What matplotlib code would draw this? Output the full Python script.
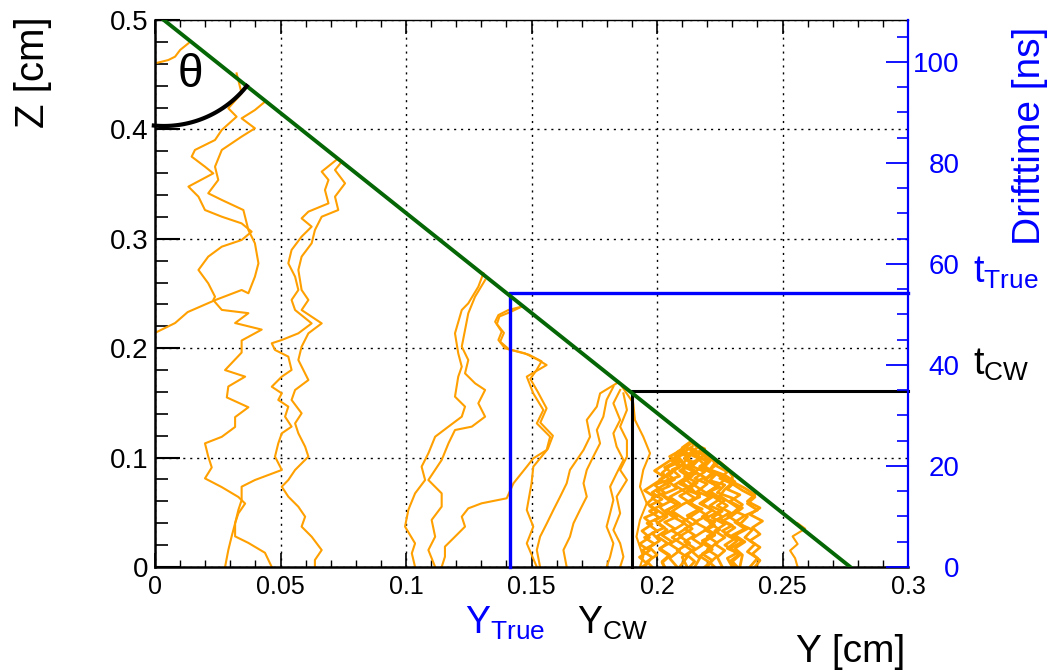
import numpy as np
import matplotlib.pyplot as plt

plt.rcParams['font.family'] = ['Liberation Sans', 'DejaVu Sans']
plt.rcParams['mathtext.fontset'] = 'custom'
plt.rcParams['mathtext.rm'] = 'Liberation Sans'

# particle track through the drift gap (Y, Z in cm)
track_y = [0.0035, 0.277]
track_z = [0.5, 0.0]

# true crossing point and the one from the charge-weighted method
y_true, z_true = 0.1414, 0.25
y_cw, z_cw = 0.19, 0.161

# drift time scale: z = 0.5 cm corresponds to t_max
z_max = 0.5
t_max = 108.3

y_ticks = [0, 0.05, 0.1, 0.15, 0.2, 0.25, 0.3]
y_tick_labels = ['0', '0.05', '0.1', '0.15', '0.2', '0.25', '0.3']
z_ticks = [0, 0.1, 0.2, 0.3, 0.4, 0.5]
z_tick_labels = ['0', '0.1', '0.2', '0.3', '0.4', '0.5']
t_ticks = [0, 20, 40, 60, 80, 100]
t_tick_labels = ['0', '20', '40', '60', '80', '100']

# electron drift paths, each a list of (y, z) points
drift_upper = [
    [(0.0133, 0.4787), (0.0100, 0.4726), (0.0080, 0.4665), (0.0053, 0.4634),
     (0.0027, 0.4619), (0.0, 0.4604), (-0.003, 0.459)],
    [(0.0325, 0.4512), (0.0345, 0.4330), (0.0292, 0.4193), (0.0325, 0.4116),
     (0.0266, 0.3995), (0.0239, 0.3903), (0.0159, 0.3812), (0.0146, 0.3751),
     (0.0199, 0.3659), (0.0232, 0.3598), (0.0133, 0.3477), (0.0173, 0.3385),
     (0.0199, 0.3263), (0.0266, 0.3202), (0.0345, 0.3141), (0.0385, 0.3065),
     (0.0345, 0.2989), (0.0266, 0.2928), (0.0212, 0.2837), (0.0173, 0.2715),
     (0.0212, 0.2593), (0.0239, 0.2471), (0.0232, 0.244), (0.0266, 0.235),
     (0.0372, 0.232), (0.0319, 0.223), (0.0425, 0.217), (0.0345, 0.207),
     (0.0345, 0.196), (0.0279, 0.180), (0.0359, 0.174), (0.0292, 0.165),
     (0.0286, 0.155), (0.0372, 0.146), (0.0319, 0.137), (0.0319, 0.128),
     (0.0266, 0.119), (0.0199, 0.113), (0.0212, 0.101), (0.0226, 0.091),
     (0.0199, 0.081), (0.0266, 0.073), (0.0332, 0.064), (0.0359, 0.058),
     (0.0332, 0.049), (0.0319, 0.040), (0.0319, 0.028), (0.0372, 0.022),
     (0.0438, 0.013), (0.0465, 0.0)],
    [(0.0438, 0.4253), (0.0398, 0.4177), (0.0345, 0.4101), (0.0398, 0.4010),
     (0.0345, 0.3934), (0.0266, 0.3812), (0.0239, 0.3659), (0.0252, 0.3538),
     (0.0212, 0.3416), (0.0266, 0.3355), (0.0352, 0.3263), (0.0372, 0.3080),
     (0.0398, 0.2959), (0.0412, 0.2776), (0.0398, 0.2654), (0.0372, 0.2502),
     (0.0345, 0.2532), (0.0240, 0.2440), (0.0130, 0.2330), (0.0080, 0.2230),
     (0.0, 0.2140), (-0.003, 0.211)],
    [(0.0730, 0.3735), (0.0664, 0.3614), (0.0691, 0.3538), (0.0677, 0.3446),
     (0.0691, 0.3324), (0.0611, 0.3248), (0.0584, 0.3187), (0.0624, 0.3111),
     (0.0584, 0.3020), (0.0544, 0.2898), (0.0531, 0.2776), (0.0558, 0.2654),
     (0.0571, 0.2532), (0.0544, 0.2441), (0.0558, 0.2349), (0.0624, 0.2227),
     (0.0571, 0.2136), (0.0505, 0.2075), (0.0465, 0.2045), (0.0478, 0.1984),
     (0.0531, 0.1923), (0.0544, 0.1801), (0.0505, 0.1740), (0.0465, 0.1648),
     (0.0505, 0.1587), (0.0491, 0.1527), (0.0531, 0.1466), (0.0518, 0.1374),
     (0.0544, 0.1283), (0.0505, 0.1222), (0.0491, 0.1130), (0.0478, 0.1009),
     (0.0505, 0.0887), (0.0398, 0.0795), (0.0345, 0.0734), (0.0345, 0.0612),
     (0.0332, 0.0521), (0.0319, 0.0399), (0.0305, 0.0277), (0.0292, 0.0155),
     (0.0279, 0.0)],
    [(0.0744, 0.3705), (0.0717, 0.3629), (0.0757, 0.3507), (0.0717, 0.3385),
     (0.0730, 0.3263), (0.0664, 0.3202), (0.0637, 0.3080), (0.0624, 0.2959),
     (0.0584, 0.2837), (0.0571, 0.2715), (0.0584, 0.2532), (0.0611, 0.2441),
     (0.0584, 0.2349), (0.0664, 0.2227), (0.0611, 0.2136), (0.0584, 0.2014),
     (0.0571, 0.1892), (0.0611, 0.1709), (0.0558, 0.1618), (0.0544, 0.1527),
     (0.0584, 0.1405), (0.0558, 0.1313), (0.0571, 0.1222), (0.0598, 0.1100),
     (0.0611, 0.1009), (0.0558, 0.0887), (0.0531, 0.0795), (0.0505, 0.0734),
     (0.0531, 0.0643), (0.0571, 0.0551), (0.0598, 0.0460), (0.0584, 0.0369),
     (0.0624, 0.0277), (0.0664, 0.0155), (0.0637, 0.0064), (0.0637, 0.0)],
]

drift_middle = [
    [(0.1308, 0.2684), (0.1288, 0.2562), (0.1248, 0.2410), (0.1222, 0.2349),
     (0.1195, 0.2136), (0.1208, 0.1953), (0.1222, 0.1831), (0.1208, 0.1740),
     (0.1195, 0.1557), (0.1235, 0.1466), (0.1222, 0.1374), (0.1169, 0.1283),
     (0.1116, 0.1191), (0.1089, 0.1039), (0.1062, 0.0917), (0.1076, 0.0795),
     (0.1036, 0.0673), (0.1009, 0.0521), (0.0996, 0.0369), (0.1036, 0.0216),
     (0.1023, 0.0125), (0.1036, 0.0)],
    [(0.1315, 0.2623), (0.1275, 0.2471), (0.1248, 0.2319), (0.1235, 0.2166),
     (0.1222, 0.2014), (0.1248, 0.1892), (0.1235, 0.1770), (0.1275, 0.1679),
     (0.1315, 0.1618), (0.1288, 0.1496), (0.1315, 0.1374), (0.1262, 0.1283),
     (0.1195, 0.1252), (0.1169, 0.1130), (0.1142, 0.0978), (0.1089, 0.0795),
     (0.1142, 0.0673), (0.1142, 0.0552), (0.1102, 0.0430), (0.1116, 0.0277),
     (0.1089, 0.0155), (0.1116, 0.0)],
    [(0.1461, 0.2380), (0.1408, 0.2349), (0.1368, 0.2303), (0.1355, 0.2242),
     (0.1381, 0.2151), (0.1368, 0.2075), (0.1394, 0.1999), (0.1474, 0.1953),
     (0.1527, 0.1892), (0.1560, 0.1846), (0.1481, 0.1740), (0.1507, 0.1587),
     (0.1547, 0.1435), (0.1521, 0.1313), (0.1574, 0.1191), (0.1560, 0.1069),
     (0.1507, 0.0993), (0.1481, 0.0917), (0.1428, 0.0765), (0.1401, 0.0628),
     (0.1301, 0.0582), (0.1248, 0.0536), (0.1222, 0.0460), (0.1235, 0.0369),
     (0.1195, 0.0277), (0.1155, 0.0186), (0.1155, 0.0094), (0.1142, 0.0)],
    [(0.1461, 0.2380), (0.1415, 0.2330), (0.1372, 0.2290), (0.1362, 0.2220),
     (0.1390, 0.2140), (0.1375, 0.2060), (0.1410, 0.1990), (0.1490, 0.1940),
     (0.1540, 0.1880), (0.1520, 0.1800), (0.1495, 0.1720), (0.1525, 0.1600),
     (0.1560, 0.1450), (0.1535, 0.1320), (0.1585, 0.1200), (0.1565, 0.1080),
     (0.1507, 0.0917), (0.1500, 0.0765), (0.1481, 0.0521), (0.1507, 0.0369),
     (0.1481, 0.0216), (0.1521, 0.0)],
]

drift_cw = [
    [(0.1839, 0.1679), (0.1773, 0.1587), (0.1760, 0.1466), (0.1720, 0.1344),
     (0.1733, 0.1191), (0.1707, 0.1069), (0.1680, 0.0978), (0.1653, 0.0887),
     (0.1640, 0.0765), (0.1614, 0.0643), (0.1587, 0.0521), (0.1561, 0.0399),
     (0.1534, 0.0277), (0.1521, 0.0155), (0.1534, 0.0)],
    [(0.1826, 0.1648), (0.1799, 0.1527), (0.1786, 0.1374), (0.1760, 0.1252),
     (0.1773, 0.1130), (0.1746, 0.1009), (0.1720, 0.0887), (0.1707, 0.0765),
     (0.1720, 0.0643), (0.1693, 0.0521), (0.1667, 0.0399), (0.1653, 0.0277),
     (0.1627, 0.0155), (0.1640, 0.0)],
    [(0.1853, 0.1618), (0.1826, 0.1496), (0.1853, 0.1344), (0.1826, 0.1222),
     (0.1839, 0.1100), (0.1866, 0.0978), (0.1839, 0.0856), (0.1813, 0.0734),
     (0.1826, 0.0612), (0.1813, 0.0491), (0.1799, 0.0369), (0.1826, 0.0216),
     (0.1813, 0.0094), (0.1799, 0.0)],
    [(0.1866, 0.1587), (0.1880, 0.1435), (0.1853, 0.1283), (0.1880, 0.1158),
     (0.1880, 0.1009), (0.1853, 0.0887), (0.1880, 0.0795), (0.1839, 0.0643),
     (0.1853, 0.0491), (0.1826, 0.0338), (0.1853, 0.0216), (0.1866, 0.0094),
     (0.1853, 0.0)],
    [(0.1860, 0.1650), (0.1905, 0.1500), (0.1912, 0.1344), (0.1945, 0.1191),
     (0.1972, 0.1039), (0.1945, 0.0887), (0.1932, 0.0734), (0.1959, 0.0582),
     (0.1932, 0.0430), (0.1918, 0.0277), (0.1945, 0.0094), (0.1932, 0.0)],
    [(0.2560, 0.0400), (0.2590, 0.0350), (0.2540, 0.0280), (0.2560, 0.0210),
     (0.2530, 0.0150), (0.2550, 0.0080), (0.2560, 0.0)],
]

drift_cluster = [
    [(0.213, 0.114), (0.210, 0.109), (0.212, 0.104), (0.207, 0.100), (0.211, 0.094),
     (0.206, 0.089), (0.209, 0.083), (0.204, 0.079), (0.208, 0.072), (0.202, 0.066),
     (0.206, 0.061), (0.201, 0.055), (0.204, 0.048), (0.199, 0.043), (0.203, 0.036),
     (0.198, 0.031), (0.201, 0.024), (0.197, 0.018), (0.200, 0.011), (0.196, 0.005),
     (0.198, 0.0)],
    [(0.214, 0.113), (0.218, 0.107), (0.215, 0.103), (0.220, 0.096), (0.217, 0.092),
     (0.223, 0.085), (0.219, 0.080), (0.225, 0.073), (0.221, 0.069), (0.227, 0.061),
     (0.224, 0.056), (0.229, 0.050), (0.225, 0.044), (0.230, 0.038), (0.226, 0.033),
     (0.231, 0.026), (0.227, 0.020), (0.232, 0.013), (0.228, 0.008), (0.230, 0.0)],
    [(0.212, 0.111), (0.208, 0.105), (0.213, 0.101), (0.210, 0.094), (0.215, 0.088),
     (0.211, 0.083), (0.216, 0.077), (0.212, 0.070), (0.217, 0.066), (0.213, 0.058),
     (0.218, 0.053), (0.214, 0.047), (0.210, 0.041), (0.214, 0.035), (0.209, 0.028),
     (0.213, 0.022), (0.208, 0.015), (0.212, 0.009), (0.209, 0.0)],
    [(0.215, 0.112), (0.219, 0.108), (0.216, 0.101), (0.221, 0.097), (0.218, 0.090),
     (0.224, 0.086), (0.221, 0.079), (0.227, 0.075), (0.224, 0.068), (0.230, 0.063),
     (0.234, 0.057), (0.231, 0.051), (0.236, 0.046), (0.233, 0.039), (0.238, 0.034),
     (0.235, 0.027), (0.239, 0.021), (0.236, 0.014), (0.240, 0.008), (0.237, 0.0)],
    [(0.213, 0.112), (0.209, 0.106), (0.205, 0.101), (0.208, 0.097), (0.203, 0.091),
     (0.206, 0.086), (0.201, 0.080), (0.205, 0.074), (0.200, 0.069), (0.204, 0.062),
     (0.208, 0.057), (0.203, 0.051), (0.207, 0.045), (0.211, 0.040), (0.206, 0.033),
     (0.210, 0.028), (0.205, 0.021), (0.209, 0.015), (0.205, 0.008), (0.208, 0.0)],
    [(0.216, 0.109), (0.213, 0.104), (0.217, 0.099), (0.214, 0.092), (0.219, 0.087),
     (0.215, 0.081), (0.220, 0.076), (0.216, 0.069), (0.221, 0.064), (0.217, 0.058),
     (0.222, 0.052), (0.218, 0.046), (0.223, 0.041), (0.219, 0.034), (0.223, 0.029),
     (0.218, 0.022), (0.222, 0.016), (0.217, 0.010), (0.221, 0.004), (0.219, 0.0)],
    [(0.210, 0.107), (0.207, 0.103), (0.210, 0.097), (0.205, 0.092), (0.202, 0.086),
     (0.205, 0.080), (0.199, 0.075), (0.203, 0.068), (0.198, 0.063), (0.202, 0.057),
     (0.197, 0.051), (0.201, 0.045), (0.196, 0.040), (0.200, 0.033), (0.195, 0.027),
     (0.199, 0.021), (0.194, 0.015), (0.198, 0.009), (0.195, 0.0)],
    [(0.217, 0.106), (0.221, 0.102), (0.223, 0.095), (0.221, 0.089), (0.227, 0.084),
     (0.231, 0.078), (0.228, 0.071), (0.233, 0.066), (0.229, 0.060), (0.234, 0.054),
     (0.230, 0.047), (0.226, 0.042), (0.231, 0.036), (0.227, 0.030), (0.232, 0.024),
     (0.228, 0.017), (0.233, 0.012), (0.229, 0.005), (0.231, 0.0)],
    [(0.211, 0.110), (0.215, 0.105), (0.211, 0.099), (0.214, 0.094), (0.209, 0.088),
     (0.213, 0.082), (0.209, 0.076), (0.214, 0.071), (0.217, 0.064), (0.212, 0.059),
     (0.216, 0.053), (0.220, 0.047), (0.215, 0.041), (0.219, 0.036), (0.223, 0.030),
     (0.218, 0.024), (0.222, 0.018), (0.218, 0.012), (0.222, 0.006), (0.220, 0.0)],
    [(0.219, 0.103), (0.216, 0.098), (0.212, 0.093), (0.216, 0.086), (0.211, 0.081),
     (0.214, 0.075), (0.209, 0.069), (0.205, 0.064), (0.209, 0.058), (0.204, 0.052),
     (0.208, 0.046), (0.203, 0.041), (0.207, 0.035), (0.202, 0.029), (0.206, 0.023),
     (0.201, 0.017), (0.205, 0.011), (0.202, 0.005), (0.203, 0.0)],
    [(0.214, 0.108), (0.218, 0.103), (0.221, 0.097), (0.217, 0.091), (0.222, 0.086),
     (0.219, 0.080), (0.224, 0.074), (0.220, 0.068), (0.225, 0.062), (0.221, 0.056),
     (0.226, 0.051), (0.222, 0.045), (0.227, 0.039), (0.223, 0.033), (0.227, 0.027),
     (0.223, 0.021), (0.227, 0.015), (0.224, 0.009), (0.226, 0.0)],
    [(0.221, 0.100), (0.225, 0.096), (0.228, 0.090), (0.230, 0.083), (0.230, 0.078),
     (0.235, 0.072), (0.239, 0.066), (0.236, 0.060), (0.241, 0.054), (0.237, 0.048),
     (0.242, 0.042), (0.238, 0.036), (0.241, 0.030), (0.237, 0.024), (0.241, 0.018),
     (0.238, 0.012), (0.241, 0.006), (0.239, 0.0)],
    [(0.212, 0.104), (0.216, 0.100), (0.219, 0.093), (0.215, 0.087), (0.219, 0.082),
     (0.214, 0.076), (0.218, 0.070), (0.222, 0.064), (0.218, 0.058), (0.222, 0.052),
     (0.226, 0.046), (0.221, 0.040), (0.225, 0.034), (0.220, 0.028), (0.224, 0.022),
     (0.220, 0.016), (0.224, 0.010), (0.221, 0.004), (0.223, 0.0)],
    [(0.209, 0.101), (0.206, 0.097), (0.209, 0.091), (0.204, 0.085), (0.207, 0.080),
     (0.202, 0.074), (0.198, 0.068), (0.202, 0.062), (0.197, 0.056), (0.200, 0.050),
     (0.195, 0.045), (0.198, 0.039), (0.194, 0.033), (0.197, 0.027), (0.193, 0.021),
     (0.197, 0.015), (0.193, 0.009), (0.196, 0.003), (0.194, 0.0)],
    [(0.224, 0.092), (0.228, 0.087), (0.225, 0.081), (0.230, 0.076), (0.234, 0.070),
     (0.239, 0.064), (0.236, 0.058), (0.240, 0.052), (0.235, 0.047), (0.231, 0.041),
     (0.235, 0.035), (0.230, 0.029), (0.234, 0.023), (0.229, 0.017), (0.233, 0.011),
     (0.230, 0.005), (0.232, 0.0)],
    [(0.215, 0.105), (0.211, 0.100), (0.215, 0.095), (0.210, 0.089), (0.214, 0.083),
     (0.210, 0.077), (0.214, 0.071), (0.209, 0.065), (0.213, 0.059), (0.217, 0.053),
     (0.212, 0.047), (0.216, 0.041), (0.211, 0.035), (0.215, 0.029), (0.211, 0.023),
     (0.215, 0.017), (0.212, 0.011), (0.215, 0.005), (0.213, 0.0)],
    [(0.214, 0.110), (0.210, 0.104), (0.206, 0.098), (0.210, 0.092), (0.215, 0.087),
     (0.211, 0.081), (0.207, 0.075), (0.211, 0.069), (0.215, 0.063), (0.210, 0.057),
     (0.206, 0.051), (0.210, 0.045), (0.214, 0.039), (0.210, 0.033), (0.206, 0.027),
     (0.210, 0.021), (0.214, 0.015), (0.210, 0.009), (0.212, 0.0)],
    [(0.218, 0.104), (0.222, 0.099), (0.219, 0.092), (0.223, 0.086), (0.227, 0.080),
     (0.224, 0.074), (0.220, 0.068), (0.224, 0.062), (0.228, 0.056), (0.224, 0.050),
     (0.219, 0.044), (0.223, 0.038), (0.218, 0.032), (0.214, 0.026), (0.218, 0.020),
     (0.214, 0.014), (0.217, 0.008), (0.215, 0.0)],
    [(0.211, 0.106), (0.207, 0.100), (0.203, 0.094), (0.199, 0.088), (0.203, 0.082),
     (0.199, 0.076), (0.195, 0.070), (0.199, 0.064), (0.196, 0.058), (0.200, 0.052),
     (0.204, 0.046), (0.200, 0.040), (0.204, 0.034), (0.200, 0.028), (0.204, 0.022),
     (0.201, 0.016), (0.205, 0.010), (0.202, 0.004), (0.203, 0.0)],
    [(0.216, 0.111), (0.219, 0.106), (0.222, 0.100), (0.224, 0.094), (0.221, 0.089),
     (0.226, 0.083), (0.230, 0.077), (0.227, 0.071), (0.225, 0.065), (0.229, 0.059),
     (0.233, 0.053), (0.228, 0.047), (0.232, 0.041), (0.236, 0.035), (0.231, 0.029),
     (0.235, 0.023), (0.231, 0.017), (0.234, 0.011), (0.233, 0.0)],
]

orange = '#ffa000'
green = '#056605'
arc_radius_px = 106

fig = plt.figure(figsize=(10.51, 6.71), dpi=100)
ax = fig.add_axes([0.1475, 0.155, 0.7165, 0.8152])

for group in (drift_upper, drift_middle, drift_cw):
    for path in group:
        p = np.array(path)
        ax.plot(p[:, 0], p[:, 1], color=orange, lw=1.5, zorder=2)
# the bunch of electrons near the end of the track overlaps heavily
for path in drift_cluster:
    p = np.array(path)
    ax.plot(p[:, 0], p[:, 1], color=orange, lw=2.0, zorder=2)

# track, true and charge-weighted positions
ax.plot(track_y, track_z, color=green, lw=2.8, zorder=5)
ax.plot([y_true, y_true, 0.3], [0, z_true, z_true], color='blue', lw=2.4,
        zorder=4, clip_on=False, solid_joinstyle='miter')
ax.plot([y_cw, y_cw, 0.3], [0, z_cw, z_cw], color='black', lw=2.2,
        zorder=4, clip_on=False, solid_joinstyle='miter')

ax.set_xlim(0, 0.3)
ax.set_ylim(0, z_max)
ax.set_xticks(y_ticks)
ax.set_xticklabels(y_tick_labels)
ax.set_yticks(z_ticks)
ax.set_yticklabels(z_tick_labels)
ax.set_xticks(np.arange(0, 0.3001, 0.01), minor=True)
ax.set_yticks(np.arange(0, 0.5001, 0.02), minor=True)
ax.grid(True, which='major', color='black', lw=1.0, linestyle=(0, (1.5, 3.5)))
ax.set_axisbelow(True)

ax.tick_params(axis='x', which='major', direction='in', top=True, length=10,
               width=1.2, labelsize=18, pad=6)
ax.tick_params(axis='x', which='minor', direction='in', top=True, length=5, width=1.0)
ax.tick_params(axis='y', which='major', direction='in', right=False, length=18,
               width=1.5, labelsize=20, pad=5)
ax.tick_params(axis='y', which='minor', direction='in', right=False, length=9, width=1.2)
ax.spines['left'].set_linewidth(1.8)
ax.spines['bottom'].set_linewidth(1.8)
ax.spines['top'].set_linewidth(1.0)
ax.spines['right'].set_visible(False)

# drift time axis on the right
ax2 = ax.twinx()
ax2.set_ylim(0, t_max)
ax2.set_yticks(t_ticks)
ax2.set_yticklabels(t_tick_labels, ha='right')
ax2.set_yticks(np.arange(0, 106, 5), minor=True)
ax2.tick_params(axis='y', which='major', direction='in', length=16, width=1.3,
                color='blue', labelcolor='blue', labelsize=20, pad=37)
ax2.tick_params(axis='y', which='minor', direction='in', length=8, width=1.2,
                color='blue')
for side in ('left', 'top', 'bottom'):
    ax2.spines[side].set_visible(False)
ax2.spines['right'].set_color('blue')
ax2.spines['right'].set_linewidth(1.6)

# angle between the track and the vertical
bbox = ax.get_window_extent()
p0 = ax.transData.transform((track_y[0], track_z[0]))
p1 = ax.transData.transform((track_y[1], track_z[1]))
a_end = np.arctan2(p1[1] - p0[1], p1[0] - p0[0])
a_start = np.radians(264.6)
ang = np.linspace(a_start, a_end + 2 * np.pi, 60)
cx, cy = ax.transAxes.inverted().transform(p0)
ax.plot(cx + arc_radius_px * np.cos(ang) / bbox.width,
        cy + arc_radius_px * np.sin(ang) / bbox.height,
        transform=ax.transAxes, color='black', lw=3, zorder=6, clip_on=False)
ax.text(0.0139, 0.4497, '\u03b8', fontsize=33, ha='center', va='center', zorder=7)

# labels
fig.text(33 / 1051, 1 - 72 / 671, 'Z [cm]', rotation=90, fontsize=29,
         ha='center', va='center')
fig.text(905 / 1051, 1 - 662 / 671, 'Y [cm]', fontsize=28, ha='right', va='baseline')
fig.text(1030 / 1051, 1 - 136 / 671, 'Drifttime [ns]', rotation=90, fontsize=28,
         color='blue', ha='center', va='center')

ax.text(0.1235, -0.1225, r'$\mathrm{Y_{True}}$', transform=ax.get_xaxis_transform(),
        fontsize=27, color='blue', ha='left', va='baseline')
ax.text(0.168, -0.1225, r'$\mathrm{Y_{CW}}$', transform=ax.get_xaxis_transform(),
        fontsize=27, color='black', ha='left', va='baseline')
ax.text(1.0863, 0.519, r'$\mathrm{t_{True}}$', transform=ax.transAxes,
        fontsize=27, color='blue', ha='left', va='baseline')
ax.text(1.0863, 0.351, r'$\mathrm{t_{CW}}$', transform=ax.transAxes,
        fontsize=27, color='black', ha='left', va='baseline')

fig.savefig('out.png', dpi=100)
